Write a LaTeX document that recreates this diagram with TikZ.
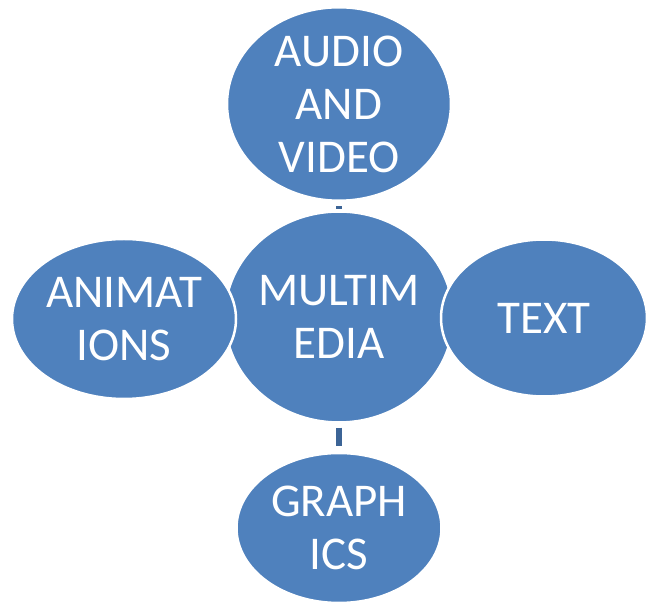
\documentclass[tikz,border=0pt]{standalone}
\usepackage{fontspec}
\setmainfont{Carlito}
\usetikzlibrary{shapes.geometric}
\definecolor{bubble}{RGB}{79,129,189}
\definecolor{link}{RGB}{60,100,150}

\begin{document}
\begin{tikzpicture}[
  x=1pt, y=1pt,
  font=\fontsize{47}{53}\selectfont,
  bub/.style={ellipse, draw=white, line width=2.5pt, fill=bubble, text=white, align=center, inner sep=0pt},
  conn/.style={draw=link, line width=6pt}]
  \useasboundingbox (0,0) rectangle (648,605);
  \node[bub, minimum width=222pt, minimum height=211pt] (media) at (339,288) {MULTIM\\EDIA};
  \node[bub, minimum width=224pt, minimum height=189pt] (audio) at (339,501) {AUDIO\\AND\\VIDEO};
  \node[bub, minimum width=205pt, minimum height=150pt] (graph) at (339,77) {GRAPH\\ICS};
  \node[bub, minimum width=224pt, minimum height=160pt] (anim) at (124,286) {ANIMAT\\IONS};
  \node[bub, minimum width=206pt, minimum height=157pt] (textb) at (544,287) {TEXT};
  \draw[conn, shorten <=4pt, shorten >=7pt] (media.north) -- (audio.south);
  \draw[conn, shorten <=4pt, shorten >=6pt] (media.south) -- (graph.north);
\end{tikzpicture}
\end{document}
